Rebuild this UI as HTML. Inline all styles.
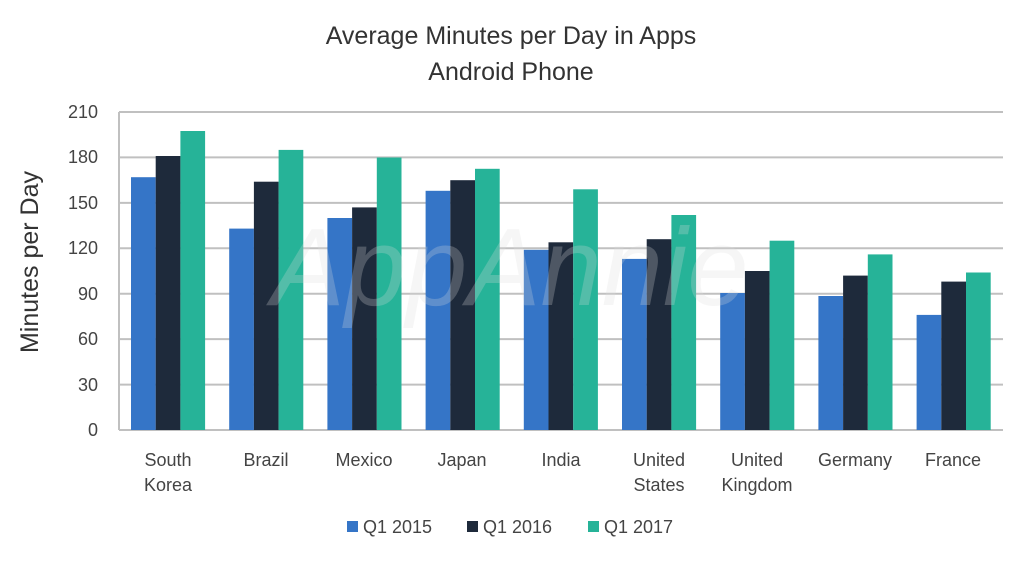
<!DOCTYPE html>
<html><head><meta charset="utf-8"><style>body{margin:0;background:#fff}svg{display:block}text{font-family:"Liberation Sans",sans-serif}</style></head>
<body>
<svg width="1024" height="562" viewBox="0 0 1024 562" xmlns="http://www.w3.org/2000/svg">
<rect width="1024" height="562" fill="#fff"/>
<text x="511" y="44" text-anchor="middle" font-size="25" fill="#333">Average Minutes per Day in Apps</text>
<text x="511" y="80" text-anchor="middle" font-size="25" fill="#333">Android Phone</text>
<g stroke="#c0c0c0" stroke-width="2">
<line x1="119" y1="112" x2="1003" y2="112"/>
<line x1="119" y1="157.4" x2="1003" y2="157.4"/>
<line x1="119" y1="202.9" x2="1003" y2="202.9"/>
<line x1="119" y1="248.3" x2="1003" y2="248.3"/>
<line x1="119" y1="293.7" x2="1003" y2="293.7"/>
<line x1="119" y1="339.1" x2="1003" y2="339.1"/>
<line x1="119" y1="384.6" x2="1003" y2="384.6"/>
<line x1="119" y1="430" x2="1003" y2="430"/>
<line x1="119" y1="112" x2="119" y2="430"/>
</g>
<g font-size="18" fill="#444" text-anchor="end">
<text x="98" y="118">210</text><text x="98" y="163">180</text><text x="98" y="209">150</text><text x="98" y="254">120</text><text x="98" y="300">90</text><text x="98" y="345">60</text><text x="98" y="391">30</text><text x="98" y="436">0</text>
</g>
<text transform="translate(38,262) rotate(-90)" text-anchor="middle" font-size="25" fill="#333">Minutes per Day</text>
<g fill="#3575c7">
<rect x="131" y="177.2" width="24.7" height="252.8"/>
<rect x="229.2" y="228.6" width="24.7" height="201.4"/>
<rect x="327.4" y="218" width="24.7" height="212"/>
<rect x="425.6" y="190.8" width="24.7" height="239.2"/>
<rect x="523.8" y="249.8" width="24.7" height="180.2"/>
<rect x="622" y="258.9" width="24.7" height="171.1"/>
<rect x="720.2" y="293" width="24.7" height="137"/>
<rect x="818.4" y="296" width="24.7" height="134"/>
<rect x="916.6" y="314.9" width="24.7" height="115.1"/>
</g>
<g fill="#1e2a3b">
<rect x="155.7" y="156" width="24.7" height="274"/>
<rect x="253.9" y="181.7" width="24.7" height="248.3"/>
<rect x="352.1" y="207.4" width="24.7" height="222.6"/>
<rect x="450.3" y="180.2" width="24.7" height="249.8"/>
<rect x="548.5" y="242.3" width="24.7" height="187.7"/>
<rect x="646.7" y="239.2" width="24.7" height="190.8"/>
<rect x="744.9" y="271" width="24.7" height="159"/>
<rect x="843.1" y="275.6" width="24.7" height="154.4"/>
<rect x="941.3" y="281.6" width="24.7" height="148.4"/>
</g>
<g fill="#26b398">
<rect x="180.4" y="131" width="24.7" height="299"/>
<rect x="278.6" y="149.9" width="24.7" height="280.1"/>
<rect x="376.8" y="157.5" width="24.7" height="272.5"/>
<rect x="475" y="168.8" width="24.7" height="261.2"/>
<rect x="573.2" y="189.3" width="24.7" height="240.7"/>
<rect x="671.4" y="215" width="24.7" height="215"/>
<rect x="769.6" y="240.7" width="24.7" height="189.3"/>
<rect x="867.8" y="254.4" width="24.7" height="175.6"/>
<rect x="966" y="272.5" width="24.7" height="157.5"/>
</g>
<text x="510" y="305" text-anchor="middle" font-size="110" font-style="italic" fill="#ddd" opacity="0.25">AppAnnie</text>
<g font-size="18" fill="#444" text-anchor="middle">
<text x="168" y="466">South</text><text x="168" y="491">Korea</text>
<text x="266" y="466">Brazil</text>
<text x="364" y="466">Mexico</text>
<text x="462" y="466">Japan</text>
<text x="561" y="466">India</text>
<text x="659" y="466">United</text><text x="659" y="491">States</text>
<text x="757" y="466">United</text><text x="757" y="491">Kingdom</text>
<text x="855" y="466">Germany</text>
<text x="953" y="466">France</text>
</g>
<g font-size="18" fill="#444">
<rect x="347" y="521" width="11" height="11" fill="#3575c7"/><text x="363" y="533">Q1 2015</text>
<rect x="467" y="521" width="11" height="11" fill="#1e2a3b"/><text x="483" y="533">Q1 2016</text>
<rect x="588" y="521" width="11" height="11" fill="#26b398"/><text x="604" y="533">Q1 2017</text>
</g>
</svg>
</body></html>
